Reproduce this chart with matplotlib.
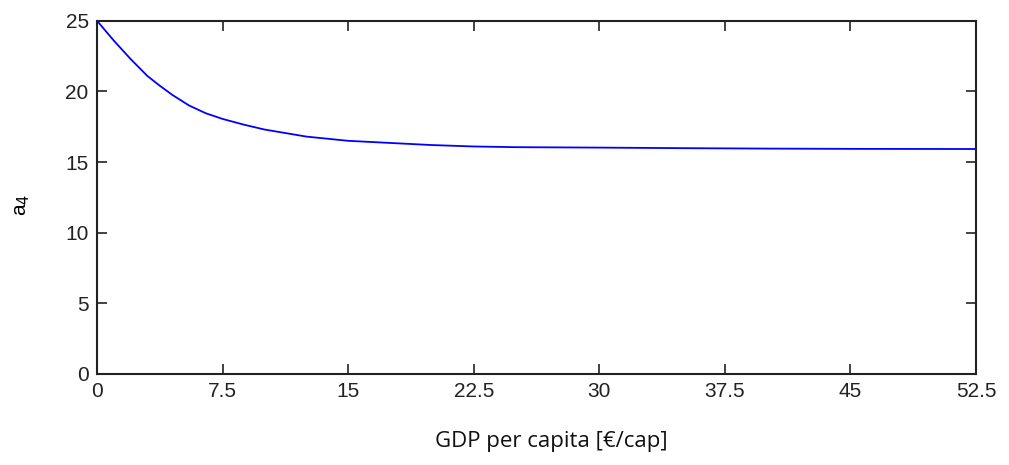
import numpy as np
import matplotlib
matplotlib.use("Agg")
import matplotlib.pyplot as plt

# values
gdp = [0, 0.5, 1, 1.5, 2, 2.5, 3, 3.75, 4.5, 5.5, 6.5, 7.5, 8.75, 10, 11.25,
       12.5, 13.75, 15, 17.5, 20, 22.5, 25, 30, 35, 40, 45, 52.5]
a4 = [25, 24.3, 23.6, 22.95, 22.3, 21.7, 21.1, 20.4, 19.75, 19.0, 18.45,
      18.05, 17.65, 17.3, 17.05, 16.8, 16.65, 16.5, 16.35, 16.2, 16.1, 16.05,
      16.02, 15.98, 15.95, 15.93, 15.92]

xticks = [0, 7.5, 15, 22.5, 30, 37.5, 45, 52.5]
xticklabels = ['0', '7.5', '15', '22.5', '30', '37.5', '45', '52.5']
yticks = [0, 5, 10, 15, 20, 25]

plt.rcParams['font.family'] = ['Liberation Sans', 'DejaVu Sans']

fig = plt.figure(figsize=(10.09, 4.65), dpi=100)
ax = fig.add_axes([0.0961, 0.1957, 0.9673 - 0.0961, 0.9555 - 0.1957])

ax.plot(gdp, a4, color='#0000ff', lw=1.3)

ax.set_xlim(0, 52.5)
ax.set_ylim(0, 25)
ax.set_xticks(xticks)
ax.set_xticklabels(xticklabels)
ax.set_yticks(yticks)
ax.tick_params(direction='in', length=7, width=1.2, top=True, right=True,
               labelsize=15, colors='#222222', pad=6)
for s in ax.spines.values():
    s.set_linewidth(1.5)
    s.set_color('#222222')

ax.set_xlabel('GDP per capita [€/cap]', fontsize=16, family=['Open Sans', 'DejaVu Sans'],
              color='#111111')
ax.xaxis.set_label_coords(0.517, -0.162)
ax.set_ylabel('a$_4$', fontsize=15)
ax.yaxis.set_label_coords(-0.074, 0.48)

fig.savefig('out.png', dpi=100)
